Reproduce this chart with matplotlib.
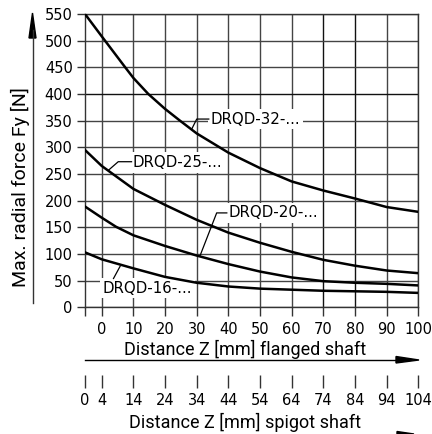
import matplotlib
matplotlib.use('Agg')
import matplotlib.pyplot as plt
from matplotlib.patches import Polygon

# flanged-shaft distance Z [mm] and max. radial force Fy [N]
x_left = -5.3

x32 = [-5.3, 0, 7.4, 10, 14.7, 20, 24.7, 30, 40, 50, 60, 70, 80, 90, 100]
y32 = [550, 508, 450, 430, 400, 372, 350, 326, 290, 261, 236, 219, 204, 188, 179]

x25 = [-5.3, 0, 10, 20, 30, 40, 50, 60, 70, 80, 90, 100]
y25 = [295, 265, 222, 192, 164, 140, 121, 104, 89, 78, 69, 64]

x20 = [-5.3, 0, 4.5, 10, 20, 30, 40, 50, 60, 70, 80, 90, 100]
y20 = [189, 168, 151, 135, 115, 97, 81, 67, 56, 49, 46, 44, 41]

x16 = [-5.3, 0, 10, 20, 30, 40, 50, 60, 70, 80, 90, 100]
y16 = [103, 90, 73, 57, 46, 39, 35, 33, 31, 30, 29, 27]

flanged_ticks = [0, 10, 20, 30, 40, 50, 60, 70, 80, 90, 100]
spigot_labels = ['0', '4', '14', '24', '34', '44', '54', '64', '74', '84', '94', '104']
y_ticks = list(range(0, 551, 50))

label_font = ['Roboto', 'DejaVu Sans']
tick_font = 'DejaVu Sans'

W, H = 432, 434
fig = plt.figure(figsize=(W / 100, H / 100), dpi=100)

left_px, right_px, top_px, bottom_px = 85, 418.3, 14, 307.3
ax = fig.add_axes([left_px / W, 1 - bottom_px / H,
                   (right_px - left_px) / W, (bottom_px - top_px) / H])
ax.set_xlim(x_left, 100)
ax.set_ylim(0, 550)

# grid
for xv in flanged_ticks:
    c = '#111111' if xv in (70, 80) else '#444444'
    ax.axvline(xv, color=c, lw=1.0, zorder=1)
for yv in y_ticks:
    c = '#111111' if yv == 400 else '#444444'
    ax.axhline(yv, color=c, lw=1.0, zorder=1)
for s in ax.spines.values():
    s.set_color('#333333')
    s.set_linewidth(1.0)

# curves
for xs, ys in [(x32, y32), (x25, y25), (x20, y20), (x16, y16)]:
    ax.plot(xs, ys, color='black', lw=1.8, zorder=4, solid_joinstyle='round')

# labels with leader lines
box = dict(facecolor='white', edgecolor='none', pad=2.0)
lab_kw = dict(fontsize=10.8, family=tick_font, va='center', ha='left', zorder=3, bbox=box)
ax.text(34.4, 353, 'DRQD-32-...', **lab_kw)
ax.plot([28.4, 30, 33.8], [334, 353, 353], color='black', lw=0.9, zorder=5)
ax.text(9.8, 272, 'DRQD-25-...', **lab_kw)
ax.plot([2.1, 5.2, 9.4], [257, 273, 273], color='black', lw=0.9, zorder=5)
ax.text(40.0, 177, 'DRQD-20-...', **lab_kw)
ax.plot([31, 36.3, 39.5], [96, 177, 177], color='black', lw=0.9, zorder=5)
ax.text(0.3, 36, 'DRQD-16-...', **lab_kw)
ax.plot([5.8, 3.7], [77, 54], color='black', lw=0.9, zorder=5)

# ticks
ax.set_xticks([x_left] + flanged_ticks, [''] + [str(v) for v in flanged_ticks])
ax.set_yticks(y_ticks, [str(v) for v in y_ticks])
ax.tick_params(axis='x', direction='out', length=6.5, width=1.0, pad=4,
               labelsize=10.5, color='#333333')
ax.tick_params(axis='y', direction='out', length=5.8, width=1.0, pad=3,
               labelsize=10.5, color='#333333')
for t in ax.get_xticklabels() + ax.get_yticklabels():
    t.set_family(tick_font)

# spigot shaft scale
sec = ax.secondary_xaxis((bottom_px - 375) / (bottom_px - top_px))
sec.set_xticks([x_left] + flanged_ticks, spigot_labels)
sec.spines['bottom'].set_visible(False)
sec.tick_params(axis='x', direction='out', length=9, width=1.0, pad=4,
                labelsize=10.5, color='#333333')
for t in sec.get_xticklabels():
    t.set_family(tick_font)

# overlay in pixel coordinates for arrows and axis titles
ov = fig.add_axes([0, 0, 1, 1], zorder=-1)
ov.set_xlim(0, W)
ov.set_ylim(H, 0)
ov.axis('off')

ov.plot([32.5, 32.5], [303, 30], color='#333333', lw=1.0)
ov.add_patch(Polygon([[32.5, 13], [29, 38], [36, 38]], closed=True, color='black'))
ov.plot([85, 400], [359.5, 359.5], color='black', lw=1.0)
ov.add_patch(Polygon([[419, 360], [396, 356.5], [396, 363]], closed=True, color='black'))
ov.add_patch(Polygon([[397, 431.5], [414, 434], [397, 434]], closed=True, color='black'))

ov.text(20.5, 187, 'Max. radial force Fy [N]', rotation=90, ha='center', va='center',
        fontsize=14, family=label_font)
ov.text(245, 349.5, 'Distance Z [mm] flanged shaft', ha='center', va='center',
        fontsize=13, family=label_font)
ov.text(245, 422, 'Distance Z [mm] spigot shaft', ha='center', va='center',
        fontsize=13, family=label_font)

fig.savefig('out.png', dpi=100)
